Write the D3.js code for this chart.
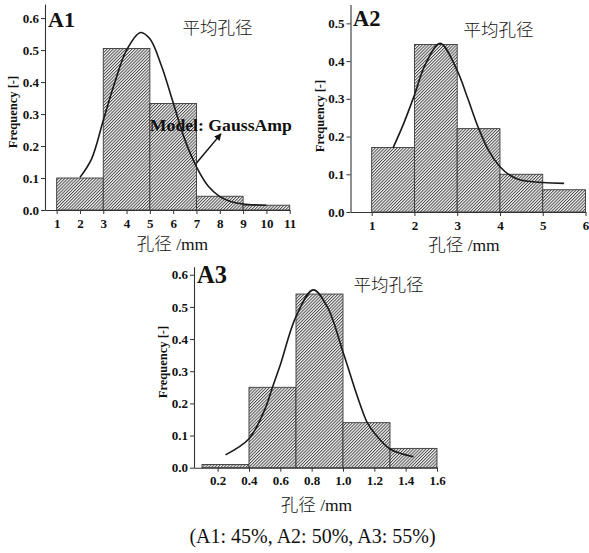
<!DOCTYPE html>
<html>
<head>
<meta charset="utf-8">
<script src="https://cdn.jsdelivr.net/npm/d3@7"></script>
<style>
  body { margin: 0; background: #fff; }
  svg { display: block; }
  text { font-family: "Liberation Serif", "Times New Roman", serif; fill: #111; }
  .cjk { font-family: "Liberation Serif", "Noto Sans CJK SC", serif; font-weight: 300; }
</style>
</head>
<body>
<svg id="chart" width="589" height="553"></svg>
<script>
// pore size histograms (A1: 45%, A2: 50%, A3: 55%)
const a1Edges = [1, 3, 5, 7, 9, 11];
const a1Freq = [0.10, 0.505, 0.333, 0.043, 0.015];
const a1FitX = [2, 2.5, 3, 3.5, 4, 4.6, 5, 5.5, 6, 6.5, 7, 7.5, 8, 8.5, 9, 10];
const a1FitY = [0.102, 0.16, 0.28, 0.40, 0.50, 0.555, 0.535, 0.45, 0.335, 0.22, 0.135, 0.075, 0.042, 0.026, 0.019, 0.015];
const a1Ticks = [1, 2, 3, 4, 5, 6, 7, 8, 9, 10, 11];

const a2Edges = [1, 2, 3, 4, 5, 6];
const a2Freq = [0.171, 0.444, 0.221, 0.10, 0.059];
const a2FitX = [1.5, 1.75, 2, 2.25, 2.6, 3, 3.25, 3.5, 3.75, 4, 4.25, 4.5, 5, 5.5];
const a2FitY = [0.17, 0.235, 0.31, 0.39, 0.447, 0.375, 0.30, 0.222, 0.16, 0.12, 0.096, 0.084, 0.078, 0.076];
const a2Ticks = [1, 2, 3, 4, 5, 6];

const a3Edges = [0.1, 0.4, 0.7, 1.0, 1.3, 1.6];
const a3Freq = [0.01, 0.25, 0.54, 0.14, 0.06];
const a3FitX = [0.25, 0.4, 0.5, 0.55, 0.6, 0.7, 0.81, 0.9, 1.0, 1.1, 1.155, 1.2, 1.3, 1.45];
const a3FitY = [0.04, 0.09, 0.18, 0.25, 0.32, 0.47, 0.553, 0.50, 0.36, 0.21, 0.14, 0.108, 0.058, 0.034];
const a3Ticks = [0.2, 0.4, 0.6, 0.8, 1.0, 1.2, 1.4, 1.6];

const yTicks06 = [0, 0.1, 0.2, 0.3, 0.4, 0.5, 0.6];
const yTicks05 = [0, 0.1, 0.2, 0.3, 0.4, 0.5];

const meanLabel = "平均孔径";
const xTitle = "孔径 /mm";
const yTitle = "Frequency [-]";
const modelLabel = "Model: GaussAmp";
const caption = "(A1: 45%, A2: 50%, A3: 55%)";

var panels = [
  { tag: "A1", edges: a1Edges, freq: a1Freq, fitX: a1FitX, fitY: a1FitY,
    xTicks: a1Ticks, yTicks: yTicks06, xFmt: d3.format("d"),
    xDom: [0.5, 11], xRange: [45, 289.7], yDom: [0, 0.644], yRange: [210, 4],
    tagPos: [48, 27, 22], meanPos: [217.5, 33.5], xlabPos: [172.5, 250], ylabPos: [13, 112],
    note: { text: modelLabel, at: [5.0, 0.247], from: [7.0, 0.147], to: [8.05, 0.238] } },
  { tag: "A2", edges: a2Edges, freq: a2Freq, fitX: a2FitX, fitY: a2FitY,
    xTicks: a2Ticks, yTicks: yTicks05, xFmt: d3.format("d"),
    xDom: [0.505, 6], xRange: [350.5, 585.5], yDom: [0, 0.55], yRange: [212, 4.5],
    tagPos: [353, 26, 22.5], meanPos: [498.5, 35.5], xlabPos: [464, 251], ylabPos: [320, 116] },
  { tag: "A3", edges: a3Edges, freq: a3Freq, fitX: a3FitX, fitY: a3FitY,
    xTicks: a3Ticks, yTicks: yTicks06, xFmt: d3.format(".1f"),
    xDom: [0.049, 1.6], xRange: [194, 437], yDom: [0, 0.625], yRange: [467.7, 266.7],
    tagPos: [197, 283, 24.5], meanPos: [388.5, 290.5], xlabPos: [316.5, 511], ylabPos: [163, 362] }
];

var svg = d3.select("#chart");
svg.append("rect").attr("width", 589).attr("height", 553).attr("fill", "#fff");

var defs = svg.append("defs");
var hs = 2.2;
var hatch = defs.append("pattern")
    .attr("id", "hatch")
    .attr("patternUnits", "userSpaceOnUse")
    .attr("width", hs).attr("height", hs)
    .attr("patternTransform", "rotate(45)");
hatch.append("rect").attr("width", hs).attr("height", hs).attr("fill", "#f6f6f6");
hatch.append("line")
    .attr("x1", 0.5).attr("y1", 0).attr("x2", 0.5).attr("y2", hs)
    .attr("stroke", "#3c3c3c").attr("stroke-width", 0.9);

defs.append("marker")
    .attr("id", "arrow")
    .attr("viewBox", "0 0 10 10")
    .attr("refX", 9).attr("refY", 5)
    .attr("markerWidth", 9).attr("markerHeight", 7)
    .attr("markerUnits", "userSpaceOnUse")
    .attr("orient", "auto")
  .append("path")
    .attr("d", "M0,0 L10,5 L0,10 z")
    .attr("fill", "#111");

function drawPanel(p) {
  var x = d3.scaleLinear().domain(p.xDom).range(p.xRange);
  var y = d3.scaleLinear().domain(p.yDom).range(p.yRange);
  var g = svg.append("g");

  var bins = p.freq.map(function(f, i) { return { x0: p.edges[i], x1: p.edges[i + 1], value: f }; });

  g.selectAll("rect.bar")
      .data(bins)
    .enter().append("rect")
      .attr("class", "bar")
      .attr("x", d => x(d.x0))
      .attr("y", d => y(d.value))
      .attr("width", d => x(d.x1) - x(d.x0))
      .attr("height", d => y(0) - y(d.value))
      .attr("fill", "url(#hatch)")
      .attr("stroke", "#3a3a3a")
      .attr("stroke-width", 0.9);

  // fitted GaussAmp curve
  var pts = p.fitX.map((v, i) => [v, p.fitY[i]]);
  var line = d3.line().x(d => x(d[0])).y(d => y(d[1])).curve(d3.curveCatmullRom.alpha(0.5));
  g.append("path")
      .attr("d", line(pts))
      .attr("fill", "none")
      .attr("stroke", "#1a1a1a")
      .attr("stroke-width", 1.6);

  var xAxis = g.append("g")
      .attr("transform", "translate(0," + y(0) + ")")
      .call(d3.axisBottom(x).tickValues(p.xTicks).tickFormat(p.xFmt).tickSize(4).tickSizeOuter(0));
  var yAxis = g.append("g")
      .attr("transform", "translate(" + x(p.xDom[0]) + ",0)")
      .call(d3.axisLeft(y).tickValues(p.yTicks).tickFormat(d3.format(".1f")).tickSize(4).tickSizeOuter(0));

  [xAxis, yAxis].forEach(function(a) {
    a.select(".domain").attr("stroke", "#333").attr("stroke-width", 1.1);
    a.selectAll(".tick line").attr("stroke", "#333");
    a.selectAll("text")
        .style("font-family", "Liberation Serif, serif")
        .style("font-weight", "bold")
        .style("font-size", "13px")
        .attr("fill", "#111");
  });
  xAxis.selectAll("text").attr("y", 17.8).attr("dy", null);
  yAxis.selectAll("text").attr("x", -6);

  g.append("text")
      .attr("x", p.tagPos[0]).attr("y", p.tagPos[1])
      .style("font-size", p.tagPos[2] + "px")
      .style("font-weight", "bold")
      .text(p.tag);

  g.append("text")
      .attr("class", "cjk")
      .attr("x", p.meanPos[0]).attr("y", p.meanPos[1])
      .attr("text-anchor", "middle")
      .style("font-size", "17.5px")
      .attr("fill", "#333")
      .text(meanLabel);

  g.append("text")
      .attr("class", "cjk")
      .attr("x", p.xlabPos[0]).attr("y", p.xlabPos[1])
      .attr("text-anchor", "middle")
      .style("font-size", "17.5px")
      .attr("fill", "#222")
      .text(xTitle);

  g.append("text")
      .attr("transform", "translate(" + p.ylabPos[0] + "," + p.ylabPos[1] + ") rotate(-90)")
      .attr("text-anchor", "middle")
      .attr("dy", "0.35em")
      .style("font-size", "12.5px")
      .style("font-weight", "bold")
      .text(yTitle);

  if (p.note) {
    g.append("line")
        .attr("x1", x(p.note.from[0])).attr("y1", y(p.note.from[1]))
        .attr("x2", x(p.note.to[0])).attr("y2", y(p.note.to[1]))
        .attr("stroke", "#111").attr("stroke-width", 1.5)
        .attr("marker-end", "url(#arrow)");
    g.append("text")
        .attr("x", x(p.note.at[0])).attr("y", y(p.note.at[1]))
        .style("font-size", "16px")
        .style("font-weight", "bold")
        .attr("textLength", 142)
        .attr("lengthAdjust", "spacingAndGlyphs")
        .text(p.note.text);
  }
}

panels.forEach(drawPanel);

svg.append("text")
    .attr("x", 312.5).attr("y", 543)
    .attr("text-anchor", "middle")
    .style("font-size", "20px")
    .attr("fill", "#222")
    .text(caption);
</script>
</body>
</html>
